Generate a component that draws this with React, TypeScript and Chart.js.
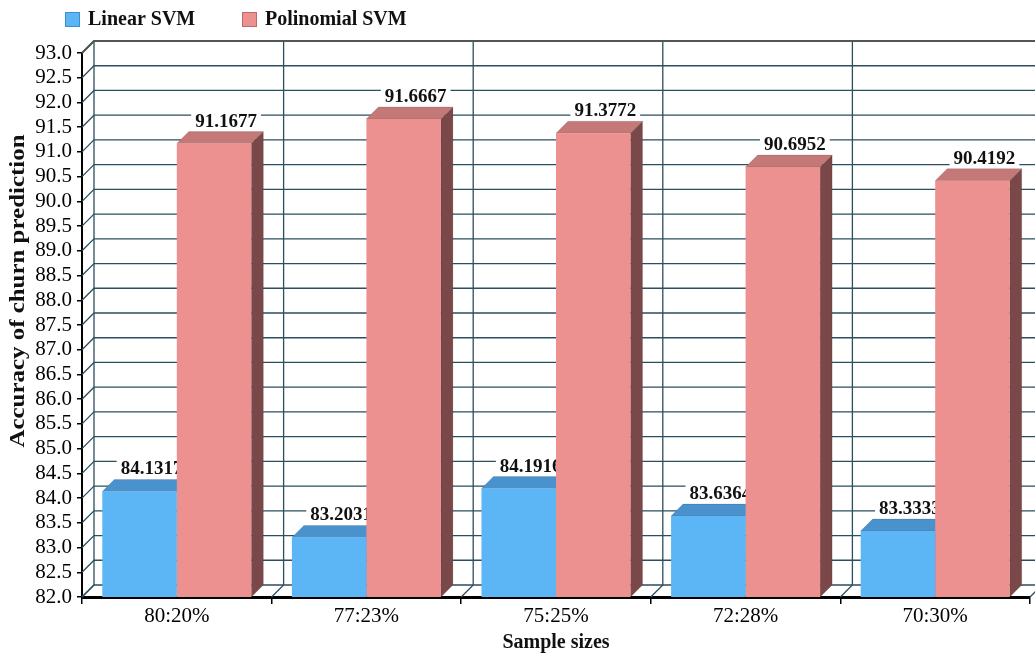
import { useEffect, useRef } from 'react';
import { Chart, registerables } from 'chart.js';

Chart.register(...registerables);

const categories = ['80:20%', '77:23%', '75:25%', '72:28%', '70:30%'];
const linearSvm = [84.1317, 83.2031, 84.1916, 83.6364, 83.3333];
const polySvm = [91.1677, 91.6667, 91.3772, 90.6952, 90.4192];
const seriesNames = ['Linear SVM', 'Polinomial SVM'];
const yMin = 82;
const yMax = 93;
const yStep = 0.5;
const xTitle = 'Sample sizes';
const yTitle = 'Accuracy of churn prediction';

const FONT = '"Liberation Serif", "Times New Roman", serif';
const D = 12;
const BLUE = '#5cb6f5';
const BLUE_TOP = '#4a92cd';
const BLUE_SIDE = '#3a6f9c';
const PINK = '#ec9090';
const PINK_TOP = '#c47878';
const PINK_SIDE = '#7a4848';
const GRID = '#2b4f5f';

function poly(ctx: CanvasRenderingContext2D, pts: number[][], fill: string) {
  ctx.beginPath();
  ctx.moveTo(pts[0][0], pts[0][1]);
  for (let i = 1; i < pts.length; i++) ctx.lineTo(pts[i][0], pts[i][1]);
  ctx.closePath();
  ctx.fillStyle = fill;
  ctx.fill();
  ctx.strokeStyle = 'rgba(0,0,0,0.12)';
  ctx.lineWidth = 1;
  ctx.stroke();
}

function barFaces(chart: any, index: number, top: string, side: string) {
  const ctx = chart.ctx as CanvasRenderingContext2D;
  const meta = chart.getDatasetMeta(index);
  const bottom = chart.chartArea.bottom;
  meta.data.forEach((bar: any) => {
    const p = bar.getProps(['x', 'y', 'width'], true);
    const l = p.x - p.width / 2;
    const r = p.x + p.width / 2;
    const t = p.y;
    const b = bottom;
    poly(ctx, [[r, t], [r + D, t - D], [r + D, b - D], [r, b]], side);
    poly(ctx, [[l, t], [l + D, t - D], [r + D, t - D], [r, t]], top);
  });
}

function barLabels(chart: any, index: number) {
  const ctx = chart.ctx as CanvasRenderingContext2D;
  const meta = chart.getDatasetMeta(index);
  const values = chart.data.datasets[index].data as number[];
  ctx.save();
  ctx.font = `bold 19px ${FONT}`;
  ctx.textAlign = 'center';
  ctx.textBaseline = 'middle';
  meta.data.forEach((bar: any, i: number) => {
    const p = bar.getProps(['x', 'y'], true);
    const txt = values[i].toFixed(4);
    const w = ctx.measureText(txt).width;
    const cx = p.x + D;
    const cy = p.y - 23;
    ctx.fillStyle = '#ffffff';
    ctx.fillRect(cx - w / 2 - 4, cy - 9, w + 8, 18);
    ctx.fillStyle = '#111111';
    ctx.fillText(txt, cx, cy + 1);
  });
  ctx.restore();
}

const threeD = {
  id: 'threeD',
  beforeDatasetsDraw(chart: any) {
    const ctx = chart.ctx as CanvasRenderingContext2D;
    const { left, right, top, bottom } = chart.chartArea;
    const y = chart.scales.y;
    ctx.save();
    ctx.strokeStyle = GRID;
    ctx.lineWidth = 1.3;
    y.ticks.forEach((t: any) => {
      const yy = y.getPixelForValue(t.value);
      ctx.beginPath();
      ctx.moveTo(left, yy);
      ctx.lineTo(left + D, yy - D);
      ctx.lineTo(chart.width + D, yy - D);
      ctx.stroke();
    });
    const n = categories.length;
    const cw = (right - left) / n;
    for (let i = 0; i <= n; i++) {
      const bx = left + i * cw;
      ctx.beginPath();
      ctx.moveTo(bx, bottom);
      ctx.lineTo(bx + D, bottom - D);
      ctx.lineTo(bx + D, top - D);
      ctx.stroke();
    }
    ctx.strokeStyle = '#555555';
    ctx.lineWidth = 2;
    ctx.beginPath();
    ctx.moveTo(left, top);
    ctx.lineTo(left + D, top - D);
    ctx.lineTo(chart.width + D, top - D);
    ctx.stroke();
    barFaces(chart, 0, BLUE_TOP, BLUE_SIDE);
    barLabels(chart, 0);
    ctx.restore();
  },
  beforeDatasetDraw(chart: any, args: any) {
    if (args.index === 1) barFaces(chart, 1, PINK_TOP, PINK_SIDE);
  },
  afterDatasetsDraw(chart: any) {
    barLabels(chart, 1);
  },
  afterDraw(chart: any) {
    const ctx = chart.ctx as CanvasRenderingContext2D;
    ctx.save();
    ctx.font = `bold 20px ${FONT}`;
    ctx.textBaseline = 'middle';
    ctx.textAlign = 'left';
    const legend = [
      { x: 65, c: BLUE, s: '#3d8fc8' },
      { x: 242, c: PINK, s: '#c06868' },
    ];
    legend.forEach((L, i) => {
      ctx.fillStyle = L.c;
      ctx.fillRect(L.x, 12, 15, 15);
      ctx.strokeStyle = L.s;
      ctx.lineWidth = 1;
      ctx.strokeRect(L.x + 0.5, 12.5, 14, 14);
      ctx.fillStyle = '#111111';
      ctx.fillText(seriesNames[i], L.x + 23, 20);
    });
    const { left, right } = chart.chartArea;
    ctx.textAlign = 'center';
    ctx.fillText(xTitle, (left + right) / 2, 643);
    ctx.translate(19, 291);
    ctx.rotate(-Math.PI / 2);
    const w = ctx.measureText(yTitle).width;
    ctx.scale(313 / w, 1);
    ctx.fillText(yTitle, 0, 0);
    ctx.restore();
  },
};

export default function App() {
  const ref = useRef<HTMLCanvasElement | null>(null);
  useEffect(() => {
    document.body.style.margin = '0';
    const canvas = ref.current;
    if (!canvas) return;
    const chart = new Chart(canvas, {
      type: 'bar',
      data: {
        labels: categories,
        datasets: [
          { label: seriesNames[0], data: linearSvm, backgroundColor: BLUE, borderWidth: 0, categoryPercentage: 0.786, barPercentage: 1 },
          { label: seriesNames[1], data: polySvm, backgroundColor: PINK, borderWidth: 0, categoryPercentage: 0.786, barPercentage: 1 },
        ],
      },
      options: {
        responsive: false,
        animation: false,
        layout: { padding: { top: 53, right: 5, left: 0, bottom: 0 } },
        plugins: { legend: { display: false }, tooltip: { enabled: false } },
        scales: {
          x: {
            z: 1,
            afterFit: (s: any) => { s.height = 58; },
            grid: { drawOnChartArea: false, drawTicks: true, tickLength: 7, tickColor: '#000', offset: true, lineWidth: 1.5 },
            border: { display: true, color: '#000', width: 3 },
            ticks: { font: { family: FONT, size: 21 }, color: '#000', padding: 0 },
          },
          y: {
            z: 1,
            min: yMin,
            max: yMax,
            afterFit: (s: any) => { s.width = 82; },
            grid: { drawOnChartArea: false, drawTicks: true, tickLength: 5, tickColor: '#000', lineWidth: 1.5 },
            border: { display: true, color: '#000', width: 2 },
            ticks: {
              stepSize: yStep,
              autoSkip: false,
              font: { family: FONT, size: 21 },
              color: '#000',
              padding: 5,
              callback: (v: any) => Number(v).toFixed(1),
            },
          },
        },
      },
      plugins: [threeD],
    });
    return () => chart.destroy();
  }, []);
  return (
    <div style={{ width: 1035, height: 655 }}>
      <canvas ref={ref} width={1035} height={655} style={{ display: 'block' }} />
    </div>
  );
}
